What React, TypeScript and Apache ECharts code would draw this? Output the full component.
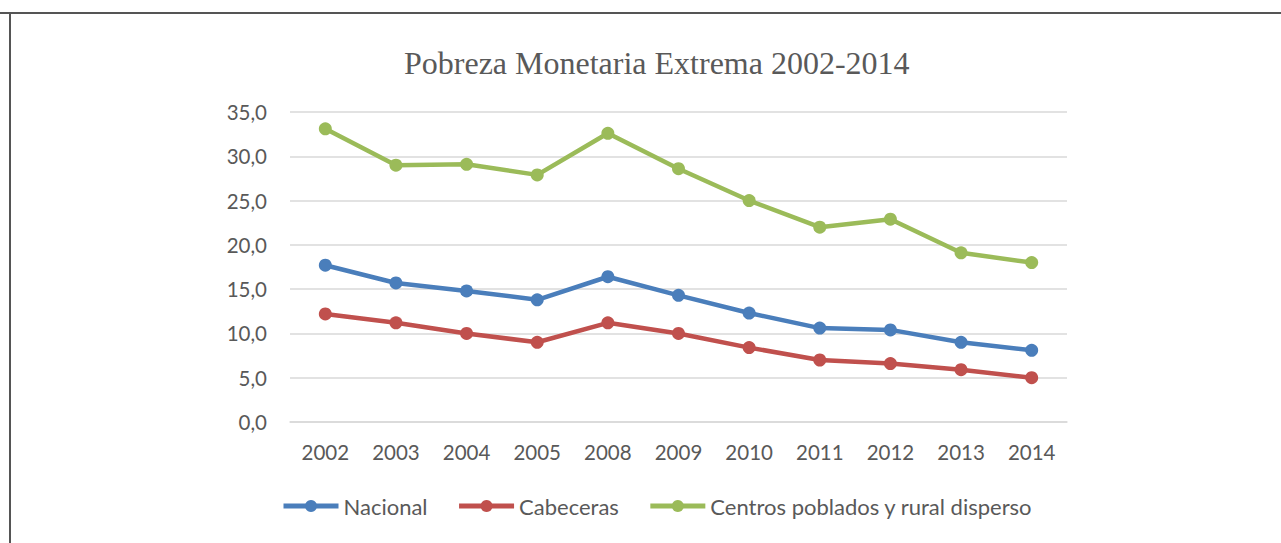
import React, { useEffect, useRef } from "react";
import * as echarts from "echarts";

const years = ["2002", "2003", "2004", "2005", "2008", "2009", "2010", "2011", "2012", "2013", "2014"];
const nacional = [17.7, 15.7, 14.8, 13.8, 16.4, 14.3, 12.3, 10.6, 10.4, 9.0, 8.1];
const cabeceras = [12.2, 11.2, 10.0, 9.0, 11.2, 10.0, 8.4, 7.0, 6.6, 5.9, 5.0];
const rural = [33.1, 29.0, 29.1, 27.9, 32.6, 28.6, 25.0, 22.0, 22.9, 19.1, 18.0];
const seriesNames = ["Nacional", "Cabeceras", "Centros poblados y rural disperso"];
const colors = ["#4a7ebb", "#c0504d", "#9bbb59"];
const titleText = "Pobreza Monetaria Extrema 2002-2014";

export default function App() {
  const ref = useRef<HTMLDivElement>(null);
  useEffect(() => {
    if (!ref.current) return;
    const chart = echarts.init(ref.current, null, { renderer: "svg" });
    const font = "Lato, 'Open Sans', sans-serif";
    const mk = (name: string, data: number[], color: string) => ({
      name,
      type: "line",
      data,
      symbol: "circle",
      symbolSize: 13,
      lineStyle: { width: 4.5, color },
      itemStyle: { color },
      z: 3,
    });
    chart.setOption({
      animation: false,
      backgroundColor: "#ffffff",
      title: {
        text: titleText,
        left: 399,
        top: 42,
        textStyle: {
          fontFamily: "'Liberation Serif', 'DejaVu Serif', serif",
          fontWeight: "normal",
          fontSize: 32,
          color: "#595959",
        },
      },
      legend: {
        data: seriesNames,
        top: 490,
        left: 276,
        itemWidth: 55,
        itemHeight: 15,
        itemGap: 29,
        lineStyle: { width: 5 },
        textStyle: { fontFamily: font, fontSize: 22, color: "#595959" },
      },
      grid: { left: 290, right: 214, top: 112, bottom: 121, containLabel: false },
      xAxis: {
        type: "category",
        data: years,
        boundaryGap: true,
        axisLine: { show: true, lineStyle: { color: "#d9d9d9", width: 1.5 } },
        axisTick: { show: false },
        axisLabel: { margin: 19, fontFamily: font, fontSize: 20.5, color: "#595959" },
      },
      yAxis: {
        type: "value",
        min: 0,
        max: 35,
        interval: 5,
        axisLine: { show: false },
        axisTick: { show: false },
        splitLine: { lineStyle: { color: "#d9d9d9", width: 1.5 } },
        axisLabel: {
          margin: 23,
          fontFamily: font,
          fontSize: 20.5,
          color: "#595959",
          formatter: (v: number) => v.toFixed(1).replace(".", ","),
        },
      },
      graphic: [
        { type: "line", shape: { x1: 0, y1: 13, x2: 1281, y2: 13 }, style: { stroke: "#555555", lineWidth: 2 } },
        { type: "line", shape: { x1: 10, y1: 13, x2: 10, y2: 543 }, style: { stroke: "#555555", lineWidth: 2 } },
      ],
      series: [
        mk(seriesNames[0], nacional, colors[0]),
        mk(seriesNames[1], cabeceras, colors[1]),
        mk(seriesNames[2], rural, colors[2]),
      ],
    });
    return () => chart.dispose();
  }, []);
  return (
    <div
      ref={ref}
      style={{ position: "fixed", left: 0, top: 0, width: 1281, height: 543, background: "#fff" }}
    />
  );
}
